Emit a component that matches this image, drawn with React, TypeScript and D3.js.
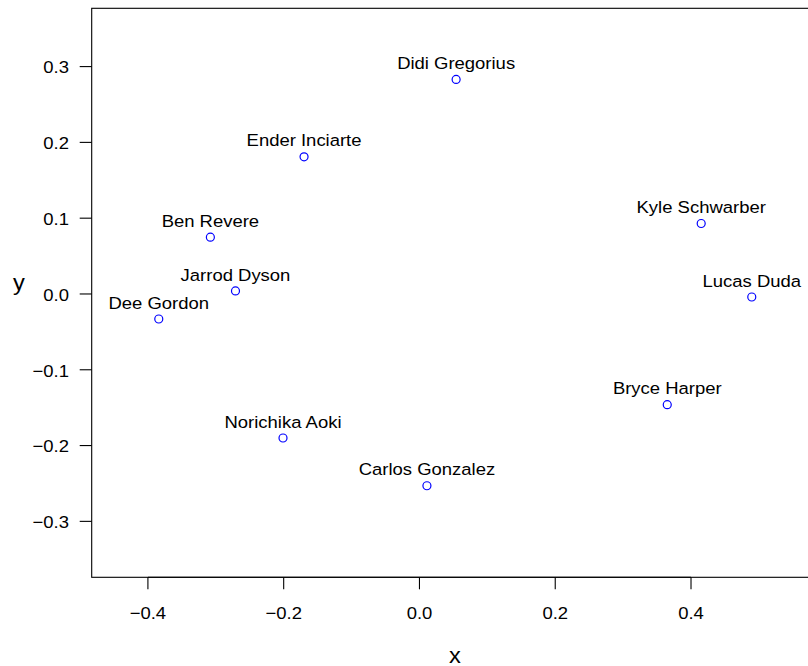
import React from "react";
import * as d3 from "d3";

// Player names and their 2-D coordinates
const players = [
  "Didi Gregorius",
  "Ender Inciarte",
  "Ben Revere",
  "Jarrod Dyson",
  "Dee Gordon",
  "Kyle Schwarber",
  "Lucas Duda",
  "Bryce Harper",
  "Norichika Aoki",
  "Carlos Gonzalez",
];
const xValues = [0.054, -0.170, -0.308, -0.271, -0.384, 0.415, 0.4895, 0.365, -0.201, 0.011];
const yValues = [0.283, 0.181, 0.075, 0.004, -0.033, 0.093, -0.004, -0.146, -0.190, -0.253];

const xTicks = [-0.4, -0.2, 0.0, 0.2, 0.4];
const yTicks = [-0.3, -0.2, -0.1, 0.0, 0.1, 0.2, 0.3];

const W = 808;
const H = 666;
const left = 91.7;
const right = 818.3;
const top = 8.3;
const bottom = 577.3;

const FONT = "'Liberation Sans', Arial, Helvetica, sans-serif";
const SX = 1.1; // horizontal stretch of glyphs

const fmt = (v: number) => d3.format(".1f")(v).replace("-", "\u2212");

function T({ x, y, anchor = "middle", size = 16.8, children }: any) {
  return (
    <text
      transform={`translate(${x},${y}) scale(${SX},1)`}
      textAnchor={anchor}
      fontFamily={FONT}
      fontSize={size}
      fill="#000"
    >
      {children}
    </text>
  );
}

export default function App() {
  const x = d3.scaleLinear().domain([-0.4828, 0.5875]).range([left, right]);
  const y = d3.scaleLinear().domain([-0.3738, 0.3769]).range([bottom, top]);

  return (
    <svg
      width={W}
      height={H}
      style={{ position: "absolute", left: 0, top: 0, background: "#fff" }}
    >
      <rect x={0} y={0} width={W} height={H} fill="#fff" />
      {/* plot frame */}
      <rect
        x={left}
        y={top}
        width={right - left}
        height={bottom - top}
        fill="none"
        stroke="#000"
        strokeWidth={1.1}
      />
      {/* x axis */}
      <line
        x1={x(xTicks[0])}
        x2={x(xTicks[xTicks.length - 1])}
        y1={bottom}
        y2={bottom}
        stroke="#000"
        strokeWidth={1.1}
      />
      {xTicks.map((t) => (
        <g key={"xt" + t}>
          <line x1={x(t)} x2={x(t)} y1={bottom} y2={bottom + 12} stroke="#000" strokeWidth={1.1} />
          <T x={x(t)} y={618.5}>{fmt(t)}</T>
        </g>
      ))}
      {/* y axis */}
      {yTicks.map((t) => (
        <g key={"yt" + t}>
          <line x1={left - 12} x2={left} y1={y(t)} y2={y(t)} stroke="#000" strokeWidth={1.1} />
          <T x={69} y={y(t) + 6.8} anchor="end">{fmt(t)}</T>
        </g>
      ))}
      {/* axis titles */}
      <T x={(left + right) / 2} y={662.5} size={21.5}>x</T>
      <T x={19} y={289.5} size={21.5}>y</T>
      {/* points and labels */}
      {players.map((name, i) => (
        <g key={name}>
          <circle
            cx={x(xValues[i])}
            cy={y(yValues[i])}
            r={4}
            fill="none"
            stroke="#0000ff"
            strokeWidth={1.2}
          />
          <T x={x(xValues[i])} y={y(yValues[i]) - 10.3}>{name}</T>
        </g>
      ))}
    </svg>
  );
}
